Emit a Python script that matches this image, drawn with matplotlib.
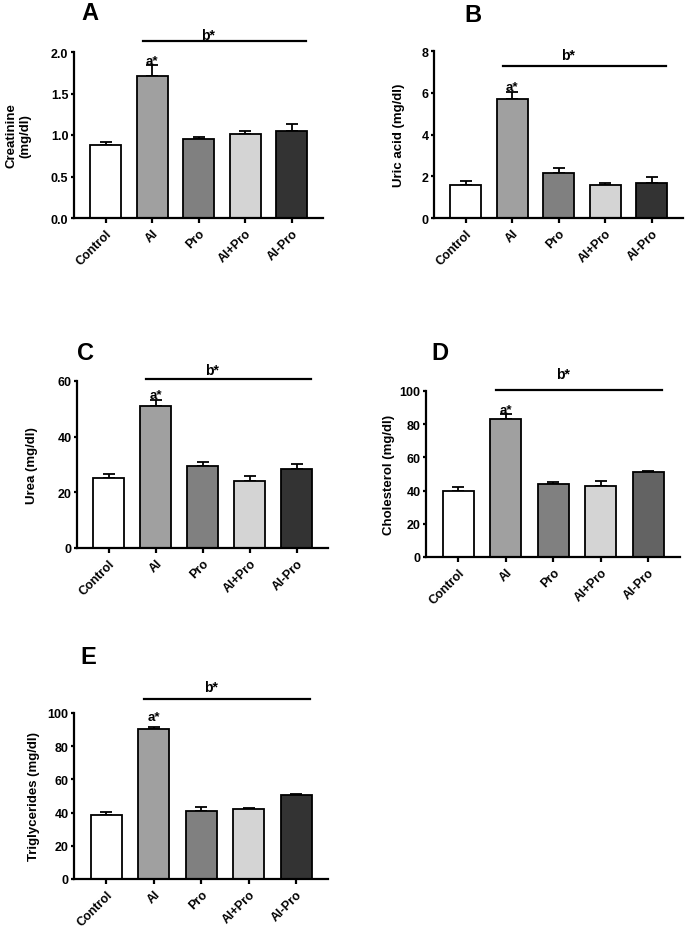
import matplotlib
matplotlib.use("Agg")
from matplotlib import pyplot as plt

plt.rcParams['font.family'] = ['Liberation Sans', 'DejaVu Sans']
plt.rcParams['font.weight'] = 'bold'
plt.rcParams['axes.labelweight'] = 'bold'

groups = ['Control', 'Al', 'Pro', 'Al+Pro', 'Al-Pro']

creatinine = [0.88, 1.71, 0.95, 1.01, 1.05]
creatinine_err = [0.04, 0.13, 0.02, 0.04, 0.08]

uric_acid = [1.6, 5.7, 2.15, 1.6, 1.7]
uric_acid_err = [0.15, 0.35, 0.25, 0.1, 0.28]

urea = [25.0, 51.0, 29.5, 24.0, 28.3]
urea_err = [1.7, 2.3, 1.3, 1.8, 2.0]

cholesterol = [39.5, 83.0, 44.0, 43.0, 51.5]
cholesterol_err = [2.5, 3.0, 1.3, 2.7, 0.5]

triglycerides = [38.5, 90.5, 41.0, 42.0, 50.5]
triglycerides_err = [2.0, 1.2, 2.5, 0.8, 1.0]

colors = ['#ffffff', '#a0a0a0', '#808080', '#d4d4d4', '#333333']
colors_d = ['#ffffff', '#a0a0a0', '#808080', '#d4d4d4', '#636363']

W, H = 685, 928
fig = plt.figure(figsize=(W / 100, H / 100), dpi=100)


def px_axes(left, top, right, bottom):
    return fig.add_axes([left / W, 1 - bottom / H, (right - left) / W, (bottom - top) / H])


def panel(ax, vals, errs, cols, ylabel, yticks, fmt, bline_y, btext_y, pad=4, a_off=-1):
    x = list(range(len(groups)))
    ax.bar(x, vals, width=0.66, color=cols, edgecolor='black', linewidth=1.3, zorder=2)
    ax.errorbar(x, vals, yerr=[[0] * len(errs), errs], fmt='none', ecolor='black',
                elinewidth=1.3, capsize=4, capthick=1.3, zorder=1)
    ax.set_xlim(-0.68, 4.67)
    ax.set_ylim(yticks[0], yticks[-1])
    ax.set_yticks(yticks)
    ax.set_yticklabels([fmt.format(t) for t in yticks])
    ax.set_xticks(x)
    ax.set_xticklabels(groups, rotation=45, ha='right', rotation_mode='anchor')
    ax.spines['top'].set_visible(False)
    ax.spines['right'].set_visible(False)
    ax.spines['left'].set_linewidth(1.6)
    ax.spines['bottom'].set_linewidth(1.6)
    ax.tick_params(axis='y', width=1.6, length=2.5, pad=1.5, labelsize=9)
    ax.tick_params(axis='x', width=1.6, length=3.5, pad=3, labelsize=9)
    ax.set_ylabel(ylabel, fontsize=9.5, labelpad=pad)
    # significance marks
    ax.annotate('a*', (1, vals[1] + errs[1]), xytext=(0, a_off), textcoords='offset points',
                ha='center', va='bottom', fontsize=9.5)
    ax.plot([0.8, 4.3], [bline_y, bline_y], color='black', lw=1.6, clip_on=False)
    ax.text(2.2, btext_y, 'b*', ha='center', va='center', fontsize=10)


axA = px_axes(74, 53, 323, 219)
panel(axA, creatinine, creatinine_err, colors, 'Creatinine\n(mg/dl)',
      [0.0, 0.5, 1.0, 1.5, 2.0], '{:.1f}', 2.13, 2.20, pad=14)

axB = px_axes(434, 52, 683, 219)
panel(axB, uric_acid, uric_acid_err, colors, 'Uric acid (mg/dl)',
      [0, 2, 4, 6, 8], '{:d}', 7.28, 7.8, pad=12)

axC = px_axes(77, 382, 328, 549)
panel(axC, urea, urea_err, colors, 'Urea (mg/dl)',
      [0, 20, 40, 60], '{:d}', 60.6, 64.0, pad=14)

axD = px_axes(426, 392, 680, 558)
panel(axD, cholesterol, cholesterol_err, colors_d, 'Cholesterol (mg/dl)',
      [0, 20, 40, 60, 80, 100], '{:d}', 100.6, 110.5, pad=3)

axE = px_axes(74, 714, 328, 880)
panel(axE, triglycerides, triglycerides_err, colors, 'Triglycerides (mg/dl)',
      [0, 20, 40, 60, 80, 100], '{:d}', 108.4, 115.5, pad=5, a_off=3)

for letter, px, py in [('A', 90, 13), ('B', 473, 15), ('C', 85, 353), ('D', 440, 353), ('E', 88, 658)]:
    fig.text(px / W, 1 - py / H, letter, fontsize=17, fontweight='bold', ha='center', va='center')

fig.savefig('out.png', dpi=100)
